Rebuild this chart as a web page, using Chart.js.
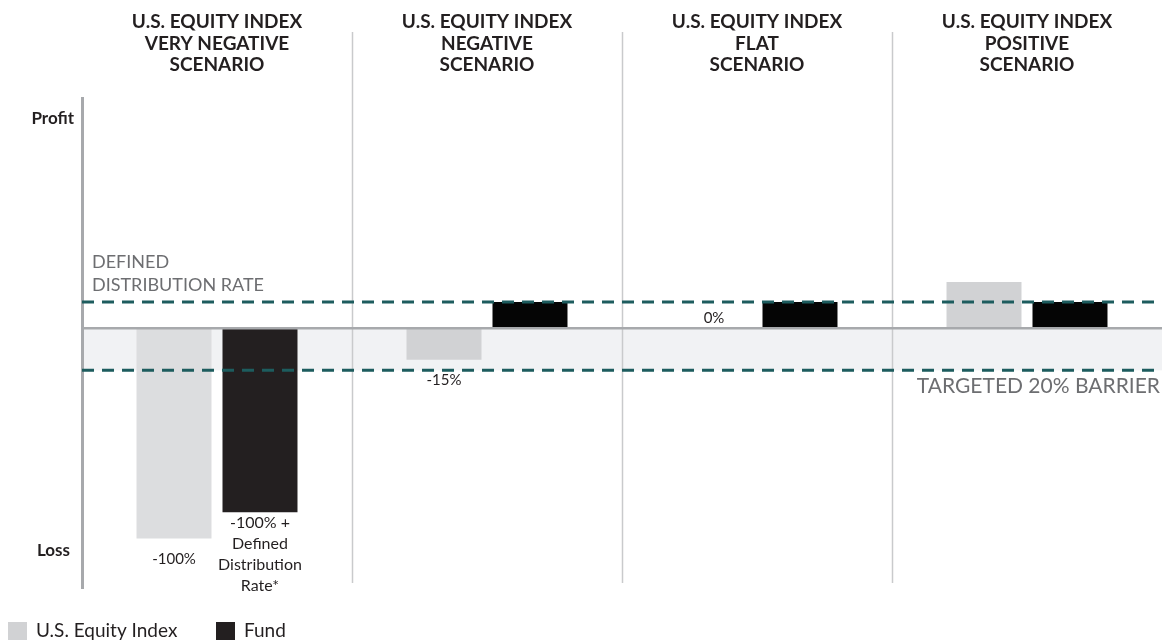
<!DOCTYPE html>
<html>
<head>
<meta charset="utf-8">
<title>Fund vs. U.S. Equity Index scenarios</title>
<script src="https://cdn.jsdelivr.net/npm/chart.js@4.4.1/dist/chart.umd.min.js"></script>
<style>
  html, body { margin: 0; padding: 0; background: #fff; }
  #scenarioChart { display: block; }
</style>
</head>
<body>
<canvas id="scenarioChart" width="1162" height="640"></canvas>
<script>
// ========== DATA ========== //
const scenarioNames = ['VERY NEGATIVE', 'NEGATIVE', 'FLAT', 'POSITIVE'];
const seriesNames = ['U.S. Equity Index', 'Fund'];
const indexReturns = [-100, -15, 0, 22];
const fundReturns = [-87.5, 12.5, 12.5, 12.5];
const distributionRate = 12.5;
const barrierLevel = -20;
const fundNotes = ['-100% +\nDefined\nDistribution\nRate*', '', '', ''];
const yRange = [-124, 110];

const indexColors = ['#dcdddf', '#d1d2d4', '#d1d2d4', '#d1d2d4'];
const fundColors = ['#231f20', '#050505', '#050505', '#050505'];

const FONT = 'Lato, "Open Sans", sans-serif';
const INK = '#231f20';
const NOTE_GRAY = '#6d6e71';

function strokeLine(ctx, x1, y1, x2, y2) {
    ctx.beginPath();
    ctx.moveTo(x1, y1);
    ctx.lineTo(x2, y2);
    ctx.stroke();
}

// ========== BACKGROUND + ANNOTATIONS ========== //
const scenarioDecor = {
    id: 'scenarioDecor',
    beforeDatasetsDraw(chart) {
        const { ctx, chartArea: a, scales: { x, y } } = chart;
        const zeroY = y.getPixelForValue(0);
        const barrierY = y.getPixelForValue(barrierLevel);
        ctx.save();

        // shaded zone between 0 and the barrier
        ctx.fillStyle = '#f1f2f4';
        ctx.fillRect(a.left, zeroY, a.right - a.left, barrierY - zeroY);

        // column separators
        ctx.strokeStyle = '#c9cacc';
        ctx.lineWidth = 1.5;
        for (let i = 1; i < scenarioNames.length; i++) {
            const sx = Math.round((x.getPixelForValue(i - 1) + x.getPixelForValue(i)) / 2) + 0.5;
            strokeLine(ctx, sx, 32, sx, 583);
        }

        // vertical axis
        ctx.strokeStyle = '#a7a9ac';
        ctx.lineWidth = 3;
        strokeLine(ctx, a.left + 0.5, a.top, a.left + 0.5, a.bottom);
        ctx.restore();
    },
    afterDatasetsDraw(chart) {
        const { ctx, chartArea: a, scales: { x, y } } = chart;
        const zeroY = y.getPixelForValue(0);
        ctx.save();

        // zero line
        ctx.strokeStyle = '#a7a9ac';
        ctx.lineWidth = 2.5;
        strokeLine(ctx, a.left, zeroY, a.right, zeroY);

        // distribution rate + barrier dashed lines
        ctx.strokeStyle = '#1d5c5e';
        ctx.lineWidth = 3;
        ctx.setLineDash([12, 8]);
        [distributionRate, barrierLevel].forEach(v => {
            const ly = y.getPixelForValue(v);
            strokeLine(ctx, a.left, ly, a.right, ly);
        });
        ctx.setLineDash([]);

        // scenario headings
        ctx.fillStyle = INK;
        ctx.textAlign = 'center';
        ctx.textBaseline = 'alphabetic';
        ctx.font = `bold 19px ${FONT}`;
        scenarioNames.forEach((name, i) => {
            const cx = x.getPixelForValue(i);
            ctx.fillText('U.S. EQUITY INDEX', cx, 28);
            ctx.fillText(name, cx, 50);
            ctx.fillText('SCENARIO', cx, 71);
        });

        // Profit / Loss
        ctx.font = `bold 17px ${FONT}`;
        ctx.textAlign = 'right';
        ctx.fillText('Profit', 74, 124);
        ctx.fillText('Loss', 70, 556);

        // reference line captions
        ctx.fillStyle = NOTE_GRAY;
        ctx.textAlign = 'left';
        ctx.font = `18px ${FONT}`;
        ctx.fillText('DEFINED', a.left + 10, 268);
        ctx.fillText('DISTRIBUTION RATE', a.left + 10, 291);
        ctx.textAlign = 'right';
        ctx.font = `21px ${FONT}`;
        ctx.fillText('TARGETED 20% BARRIER', a.right - 2, 393);

        // bar value labels
        ctx.fillStyle = INK;
        ctx.textAlign = 'center';
        ctx.font = `15px ${FONT}`;
        const indexBars = chart.getDatasetMeta(0).data;
        indexReturns.forEach((v, i) => {
            if (v > 0) return;
            const bar = indexBars[i];
            const ty = v < 0 ? bar.y + 25 : bar.y - 5;
            ctx.fillText(v + '%', bar.x, ty);
        });
        const fundBars = chart.getDatasetMeta(1).data;
        ctx.font = `16px ${FONT}`;
        fundNotes.forEach((note, i) => {
            if (!note) return;
            const bar = fundBars[i];
            note.split('\n').forEach((line, k) => {
                ctx.fillText(line, bar.x, bar.y + 16 + k * 21);
            });
        });

        // legend
        const legendColors = [indexColors[1], fundColors[0]];
        const legendX = [8, 216];
        ctx.textAlign = 'left';
        ctx.font = `19px ${FONT}`;
        seriesNames.forEach((name, i) => {
            ctx.fillStyle = legendColors[i];
            ctx.fillRect(legendX[i], 622, 19, 18);
            ctx.fillStyle = INK;
            ctx.fillText(name, legendX[i] + 28, 637);
        });
        ctx.restore();
    }
};

// ========== CHART ========== //
const canvas = document.getElementById('scenarioChart');
new Chart(canvas, {
    type: 'bar',
    data: {
        labels: scenarioNames,
        datasets: [{
            label: seriesNames[0],
            data: indexReturns,
            backgroundColor: indexColors,
            borderWidth: 0
        }, {
            label: seriesNames[1],
            data: fundReturns,
            backgroundColor: fundColors,
            borderWidth: 0
        }]
    },
    options: {
        responsive: false,
        animation: false,
        devicePixelRatio: 1,
        categoryPercentage: 0.637,
        barPercentage: 0.872,
        layout: { padding: { left: 82, right: 0, top: 97, bottom: 51 } },
        plugins: {
            legend: { display: false },
            tooltip: { enabled: false }
        },
        scales: {
            x: { display: false, grid: { display: false } },
            y: { display: false, min: yRange[0], max: yRange[1] }
        }
    },
    plugins: [scenarioDecor]
});
</script>
</body>
</html>
